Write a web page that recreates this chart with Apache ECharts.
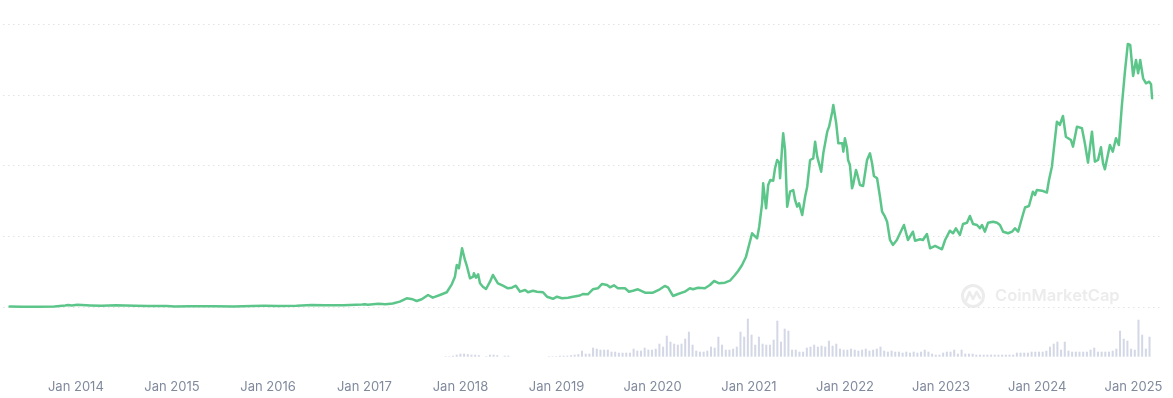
<!DOCTYPE html>
<html>
<head>
<meta charset="utf-8">
<script src="https://cdn.jsdelivr.net/npm/echarts/dist/echarts.min.js"></script>
<style>
html,body{margin:0;padding:0;background:#fff;}
#chart{width:1173px;height:398px;}
</style>
</head>
<body>
<div id="chart"></div>
<script>
// Price (USD)
const priceSeries = [
['2013-04-28',135],['2013-06-15',100],['2013-08-15',110],['2013-10-15',150],['2013-11-25',500],['2013-12-06',700],['2013-12-20',550],['2014-01-10',800],['2014-03-01',560],['2014-04-12',420],['2014-06-05',620],['2014-08-18',480],['2014-10-05',330],['2014-12-15',350],['2015-01-14',200],['2015-03-10',280],['2015-06-15',240],['2015-08-25',220],['2015-11-04',380],['2015-12-20',430],['2016-02-10',380],['2016-04-20',440],['2016-06-17',720],['2016-08-05',580],['2016-10-15',640],['2016-12-25',880],['2017-01-05',1000],['2017-01-15',820],['2017-02-25',1150],['2017-03-24',950],
['2017-04-20',1250],['2017-05-17',1900],['2017-06-12',3080],['2017-07-05',2720],['2017-07-20',2120],['2017-08-08',2720],['2017-09-01',4240],['2017-09-19',3290],['2017-10-16',4240],['2017-11-11',5200],['2017-11-30',8020],['2017-12-12',10710],['2017-12-19',14840],['2017-12-27',13680],['2018-01-08',20750],['2018-01-19',16610],['2018-01-27',14240],['2018-01-31',14840],['2018-02-07',10140],['2018-02-19',10710],['2018-02-22',11910],['2018-03-02',10360],['2018-03-10',11560],['2018-03-17',8380],['2018-03-28',7170],['2018-04-09',6360],['2018-04-24',8940],['2018-05-05',11310],['2018-05-24',8380],['2018-06-12',7530],['2018-07-01',6610],['2018-07-16',6820],['2018-07-31',7530],['2018-08-16',5410],['2018-09-04',6010],['2018-09-15',5200],['2018-10-04',5760],['2018-10-19',5410],['2018-11-11',5200],['2018-11-26',3640],['2018-12-19',2900],
['2019-01-03',3640],['2019-01-22',3080],['2019-02-14',3290],['2019-03-05',3640],['2019-03-31',4060],['2019-04-11',4590],['2019-04-30',4490],['2019-05-19',6260],['2019-06-07',6610],['2019-06-23',8130],['2019-07-12',7780],['2019-07-23',6960],['2019-08-07',7670],['2019-08-22',6610],['2019-09-18',6610],['2019-10-03',5410],['2019-10-18',5760],['2019-11-06',6260],['2019-12-03',5050],['2020-01-02',5050],['2020-01-28',6260],['2020-02-16',7420],['2020-02-28',6960],['2020-03-18',3890],['2020-04-06',4590],['2020-05-02',5410],['2020-05-21',6610],['2020-06-02',6260],['2020-06-21',6820],['2020-07-17',6610],['2020-08-05',7780],['2020-08-21',9190],['2020-09-09',8380],['2020-10-01',8590],['2020-10-20',9290],['2020-11-08',11310],['2020-11-20',12720],['2020-12-05',14840],['2020-12-20',17780],
['2021-01-12',26050],['2021-01-31',24280],['2021-02-08',28380],['2021-02-19',36650],['2021-02-23',43720],['2021-03-06',34880],['2021-03-14',43120],['2021-03-22',44880],['2021-04-02',44630],['2021-04-09',49020],['2021-04-17',51950],['2021-04-25',51000],['2021-04-28',45480],['2021-05-06',56650],['2021-05-10',61390],['2021-05-17',55480],['2021-05-25',35450],['2021-06-05',40750],['2021-06-17',41350],['2021-06-24',37810],['2021-07-02',35450],['2021-07-09',36650],['2021-07-21',32510],['2021-08-01',38980],['2021-08-09',42510],['2021-08-20',51950],['2021-09-01',52550],['2021-09-08',58420],['2021-09-16',53120],['2021-09-23',52550],['2021-10-01',47820],['2021-10-09',54320],['2021-10-24',61950],['2021-10-31',63720],['2021-11-12',69020],['2021-11-16',71390],['2021-11-27',64920],['2021-12-05',57850],['2021-12-20',57850],['2021-12-24',54880],['2021-12-30',59620],
['2022-01-07',56090],['2022-01-11',51950],['2022-01-18',50180],['2022-01-26',41950],['2022-01-30',43120],['2022-02-10',48420],['2022-02-14',47250],['2022-02-25',43120],['2022-03-09',42760],['2022-03-24',51950],['2022-04-04',54320],['2022-04-12',50780],['2022-04-19',46300],['2022-05-01',45480],['2022-05-12',38980],['2022-05-20',33680],['2022-05-31',31910],['2022-06-08',30150],['2022-06-19',23680],['2022-06-30',21910],['2022-07-15',23680],['2022-07-27',26050],['2022-08-11',28980],['2022-08-26',23680],['2022-09-14',26610],['2022-09-22',23430],['2022-10-11',23930],['2022-10-22',23680],['2022-11-06',25800],['2022-11-18',20750],['2022-12-07',21560],
['2023-01-02',20390],['2023-01-14',23680],['2023-02-01',26960],['2023-02-13',26050],['2023-02-24',27810],['2023-03-11',25450],['2023-03-23',29330],['2023-04-07',29790],['2023-04-18',32160],['2023-04-30',29330],['2023-05-15',28980],['2023-05-26',27810],['2023-06-03',28980],['2023-06-14',26610],['2023-06-26',29790],['2023-07-15',30150],['2023-07-30',29790],['2023-08-10',28980],['2023-08-22',26610],['2023-09-10',26050],['2023-09-25',26610],['2023-10-06',27810],['2023-10-18',26610],['2023-11-02',31630],['2023-11-13',35160],['2023-11-28',35690],['2023-12-13',40750],['2023-12-21',39580],['2023-12-28',41350],
['2024-01-16',41100],['2024-02-04',40460],['2024-02-12',44880],['2024-02-23',49580],['2024-02-27',50180],['2024-03-13',65490],['2024-03-24',64320],['2024-04-05',67500],['2024-04-16',60180],['2024-05-05',59020],['2024-05-13',56650],['2024-05-28',63720],['2024-06-16',63150],['2024-06-27',57850],['2024-07-09',51000],['2024-07-24',61950],['2024-08-04',51350],['2024-08-16',51950],['2024-08-27',56440],['2024-09-04',50780],['2024-09-11',48660],['2024-09-30',57250],['2024-10-11',54880],['2024-10-23',59620],['2024-11-03',57250],['2024-11-14',70790],['2024-11-26',83160],['2024-12-07',92940],['2024-12-16',92590],['2024-12-27',81640],['2024-12-31',81640],['2025-01-07',87290],['2025-01-15',82590],['2025-01-23',87290],['2025-01-30',87890],['2025-02-03',80820],['2025-02-14',79060],['2025-02-26',79620],['2025-03-05',78700],['2025-03-09',73760]
];

// Volume (billion USD), one bar every two weeks from volumeStart
const volumeStart = '2017-11-06';
const volumeStepDays = 14;
const volumeValues = [
5,5,10,20,30,30,25,20,20,15,0,5,20,20,15,0,10,10,0,0,
0,0,0,0,0,0,0,0,5,5,5,10,10,10,15,20,25,60,30,30,
90,80,70,70,70,50,50,40,40,40,40,80,60,60,90,70,70,80,130,100,
210,150,130,120,130,180,250,120,60,50,50,60,100,90,200,120,70,70,80,100,
250,200,380,220,120,200,130,120,120,170,360,150,280,260,70,70,50,50,90,100,
120,100,110,100,160,110,130,80,70,70,80,70,60,70,80,60,70,80,100,60,
50,60,50,50,40,50,40,50,40,50,70,50,30,20,20,40,50,50,70,30,
70,30,30,30,20,20,20,20,20,20,20,20,20,20,20,40,40,40,40,50,
50,50,50,60,100,130,150,70,150,60,50,50,50,50,50,70,90,50,50,50,
50,60,80,260,180,160,80,70,370,220,80,200
];

// Start-of-history reference segment (price 0 baseline)
const baselineSeries = [['2013-04-28',0],['2013-10-10',0]];

const axisMin = '2013-04-03';
const axisMax = '2025-04-08';

const DAY = 86400000;
const volStartMs = new Date(volumeStart + 'T00:00:00').getTime();
const volumeSeries = volumeValues.map((v, i) => [volStartMs + i * volumeStepDays * DAY, v]);

const chart = echarts.init(document.getElementById('chart'), null, {renderer: 'canvas'});
const labelFmt = function (val) {
  const d = new Date(val);
  if (d.getMonth() === 0 && d.getDate() === 1) return 'Jan ' + d.getFullYear();
  return '';
};
chart.setOption({
  animation: false,
  backgroundColor: '#ffffff',
  grid: [
    {left: 3, right: 13, top: 24, height: 283},
    {left: 3, right: 13, top: 316.7, height: 40}
  ],
  xAxis: [
    {type: 'time', gridIndex: 0, min: axisMin, max: axisMax, show: false, splitLine: {show: false}},
    {type: 'time', gridIndex: 1, min: axisMin, max: axisMax,
     minInterval: 365 * DAY, maxInterval: 366 * DAY, splitNumber: 12,
     axisLine: {show: false}, axisTick: {show: false}, splitLine: {show: false},
     axisLabel: {formatter: labelFmt, color: '#808a9d', fontSize: 13, fontFamily: 'Inter, sans-serif', margin: 24, showMinLabel: false, showMaxLabel: false}}
  ],
  yAxis: [
    {type: 'value', gridIndex: 0, min: 0, max: 100000, interval: 25000,
     axisLine: {show: false}, axisTick: {show: false}, axisLabel: {show: false},
     splitLine: {show: true, lineStyle: {color: '#e3e3e3', width: 1, type: [1.5, 3.5]}}},
    {type: 'value', gridIndex: 1, min: 0, max: 400, show: false, splitLine: {show: false}}
  ],
  graphic: [
    {type: 'circle', shape: {cx: 973, cy: 296, r: 10.5}, style: {fill: 'none', stroke: '#ececec', lineWidth: 3}, silent: true, z: 0},
    {type: 'polyline', shape: {points: [[966, 301], [969.5, 292], [973, 299], [976.5, 292], [980, 298]]}, style: {fill: 'none', stroke: '#ececec', lineWidth: 2.6, lineJoin: 'round', lineCap: 'round'}, silent: true, z: 0},
    {type: 'text', x: 995, y: 296, style: {text: 'CoinMarketCap', fill: '#ececec', fontSize: 16.5, fontWeight: 600, fontFamily: 'Inter, sans-serif', verticalAlign: 'middle', align: 'left'}, silent: true, z: 0}
  ],
  series: [
    {type: 'line', xAxisIndex: 0, yAxisIndex: 0, data: baselineSeries, showSymbol: false,
     lineStyle: {color: '#ea3943', width: 1, type: [3, 2], opacity: 0.5}, z: 2},
    {type: 'line', xAxisIndex: 0, yAxisIndex: 0, data: priceSeries, showSymbol: false, smooth: false,
     lineStyle: {color: '#5cc68a', width: 2.5, join: 'round', cap: 'round'}, z: 3},
    {type: 'bar', xAxisIndex: 1, yAxisIndex: 1, data: volumeSeries, barWidth: 2,
     itemStyle: {color: '#d3d7e6'}, z: 2}
  ]
});
</script>
</body>
</html>
